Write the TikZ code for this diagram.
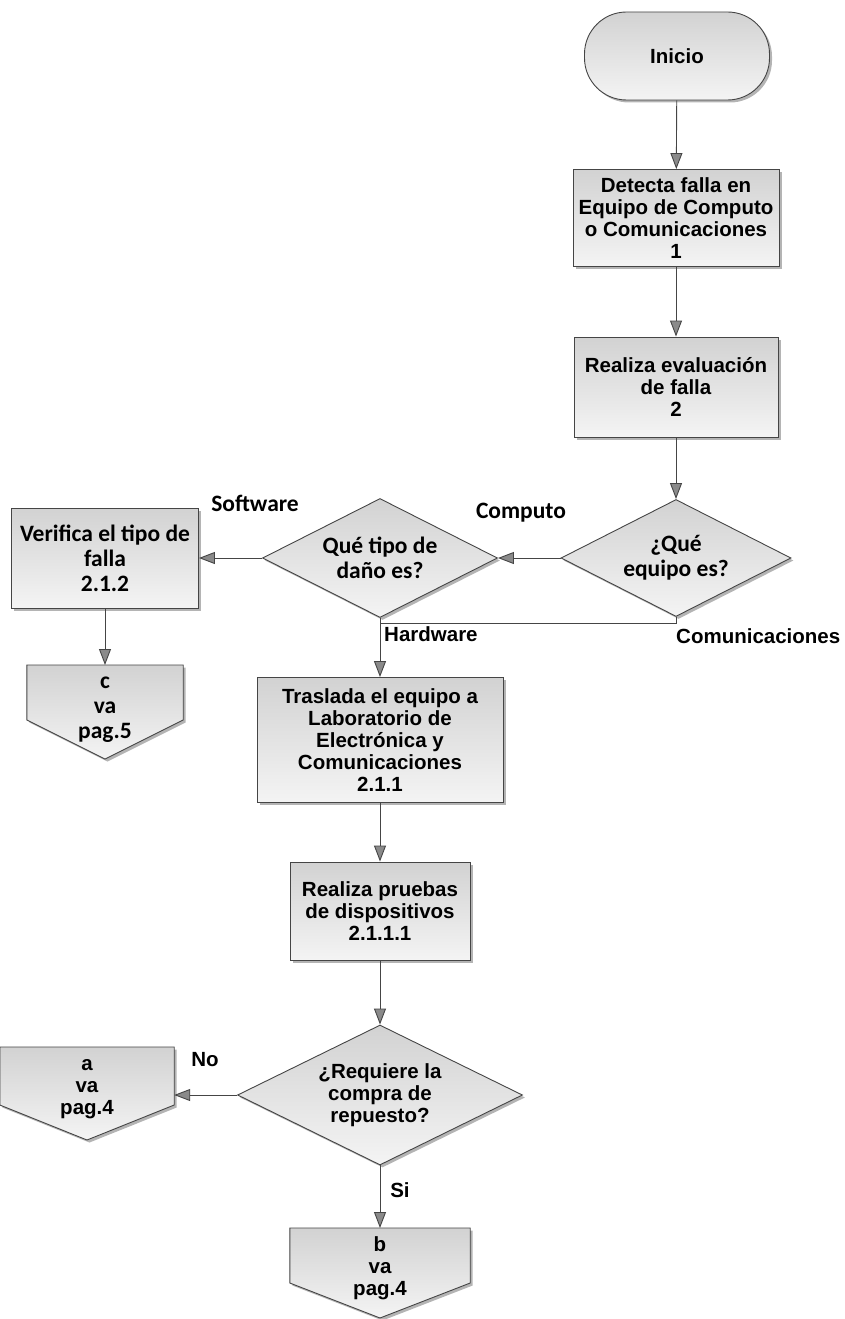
\documentclass[tikz,border=0pt]{standalone}
\usepackage{fontspec}
\setmainfont{Liberation Sans}
\newfontfamily\calfont{Carlito}
\usetikzlibrary{arrows.meta, positioning, calc, shapes.geometric, shadows}
\definecolor{cline}{HTML}{454545}
\definecolor{ctip}{HTML}{8A8A8A}
\definecolor{cfilltop}{HTML}{D2D2D2}
\definecolor{cfillbot}{HTML}{F4F4F4}
\definecolor{cshadow}{HTML}{6A6A6A}
\newcommand{\arfont}{\bfseries\fontsize{20.5}{22}\selectfont}
\newcommand{\clfont}{\calfont\bfseries\fontsize{23.5}{25}\selectfont}
\pgfdeclarelayer{bg}
\pgfsetlayers{bg,main}

\tikzset{
  base/.style={draw=cline, line width=0.9pt, top color=cfilltop, bottom color=cfillbot,
    drop shadow={shadow xshift=2.5pt, shadow yshift=-2.5pt, fill=cshadow}},
  term/.style={base, rectangle, align=center, font=\arfont, rounded corners=42pt,
    minimum width=185pt, minimum height=88pt},
  proc/.style={base, rectangle, align=center, inner sep=2pt, font=\arfont},
  dec/.style={base, diamond, aspect=2, align=center, inner sep=0pt, font=\arfont},
  offtext/.style={align=center, inner sep=0pt, anchor=north, font=\arfont},
  offshape/.style={base},
  lbl/.style={font=\arfont, inner sep=0pt},
  clbl/.style={font=\clfont, inner sep=0pt},
  flow/.style={draw=cline, line width=0.9pt,
    -{Triangle[width=12pt, length=16pt, fill=ctip]}},
  link/.style={draw=cline, line width=0.9pt}
}

\begin{document}
\begin{tikzpicture}[x=1pt, y=-1pt]
  \useasboundingbox (0,0) rectangle (844,1319);
  % right column
  \node[term] (inicio) at (677,56) {Inicio};
  \node[proc, minimum width=206pt, minimum height=97pt] (detecta) at (676,218)
    {Detecta falla en\\Equipo de Computo\\o Comunicaciones\\1};
  \node[proc, minimum width=204pt, minimum height=100pt] (evalua) at (676,387)
    {Realiza evaluaci\'on\\de falla\\2};
  \node[dec, font=\clfont, minimum width=230pt, minimum height=117pt] (equipo) at (676,558)
    {¿Qué\\equipo es?};
  % middle row
  \node[dec, font=\clfont, minimum width=235pt, minimum height=119pt] (tipo) at (380,558)
    {Qué tipo de\\daño es?};
  \node[proc, font=\clfont, minimum width=187pt, minimum height=100pt] (verif) at (105,558)
    {Verifica el tipo de\\falla\\2.1.2};
  \node[offtext, font=\clfont, minimum width=156pt, minimum height=88pt] (cpag) at (105,665)
    {c\\va\\pag.5};
  % central column
  \node[proc, minimum width=246pt, minimum height=125pt] (trasl) at (380,740)
    {Traslada el equipo a\\Laboratorio de\\Electrónica y\\Comunicaciones\\2.1.1};
  \node[proc, minimum width=180pt, minimum height=98pt] (pruebas) at (380,911)
    {Realiza pruebas\\de dispositivos\\2.1.1.1};
  \node[dec, minimum width=285pt, minimum height=140pt] (requiere) at (380,1095)
    {¿Requiere la\\compra de\\repuesto?};
  \node[offtext, minimum width=174pt, minimum height=84pt] (apag) at (87,1047)
    {a\\va\\pag.4};
  \node[offtext, minimum width=180pt, minimum height=80pt] (bpag) at (380,1228)
    {b\\va\\pag.4};

  % off-page shapes behind their texts
  \begin{pgfonlayer}{bg}
    \foreach \n/\sh/\tip in {cpag/55/94, apag/58/93, bpag/55/90}{
      \draw[offshape] (\n.north west) -- (\n.north east)
        -- ($(\n.north east)+(0,\sh)$) -- ($(\n.north)+(0,\tip)$)
        -- ($(\n.north west)+(0,\sh)$) -- cycle;
    }
  \end{pgfonlayer}

  % connectors
  \draw[flow] (inicio) -- (detecta);
  \draw[flow] (detecta) -- (evalua);
  \draw[flow] (evalua) -- (equipo);
  \draw[flow] (equipo) -- (tipo);
  \draw[flow] (tipo) -- (verif);
  \draw[flow] (verif) -- (cpag);
  \draw[flow] (tipo) -- (trasl);
  \coordinate (jn) at (380,623);
  \draw[link] (equipo.south) |- (jn);
  \draw[flow] (trasl) -- (pruebas);
  \draw[flow] (pruebas) -- (requiere);
  \draw[flow] (requiere.west) -- (requiere.west -| apag.east);
  \draw[flow] (requiere) -- (bpag);

  % branch labels
  \node[clbl] (lsoft) at (255,503) {Software};
  \node[clbl] (lcomp) at (521,513) {Computo};
  \node[lbl, anchor=west] (lhard) at (384,634) {Hardware};
  \node[lbl, anchor=west] (lcomu) at (676,636) {Comunicaciones};
  \node[lbl] (lno) at (205,1060) {No};
  \node[lbl] (lsi) at (400,1190) {Si};
\end{tikzpicture}
\end{document}
